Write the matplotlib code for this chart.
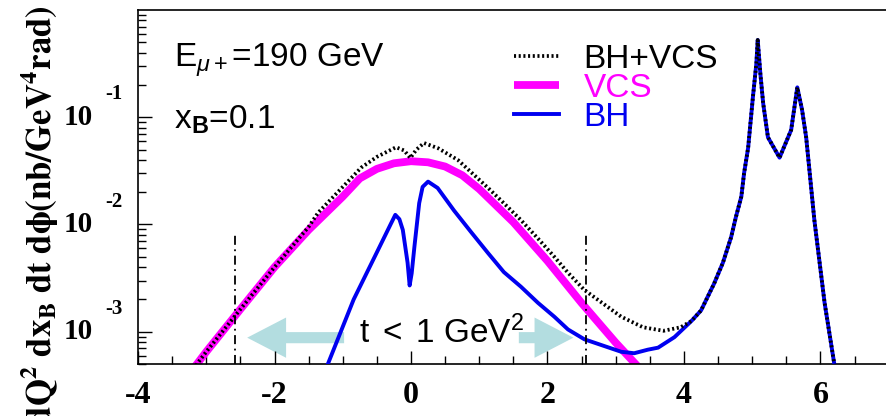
#!/usr/bin/env python3
import matplotlib
matplotlib.use('Agg')
import numpy as np
from matplotlib import pyplot as plt
from matplotlib.ticker import MultipleLocator, LogLocator, NullFormatter

plt.rcParams['axes.unicode_minus'] = False
plt.rcParams['mathtext.fontset'] = 'custom'
plt.rcParams['mathtext.rm'] = 'Liberation Sans'
plt.rcParams['mathtext.it'] = 'Liberation Sans:italic'
plt.rcParams['mathtext.sf'] = 'Liberation Sans:bold'
plt.rcParams['mathtext.bf'] = 'Liberation Sans:bold'

#%% curves
vcs_x = [-3.40, -3.00, -2.50, -2.00, -1.50, -1.00, -0.75, -0.50, -0.25, 0.00,
         0.25, 0.50, 0.75, 1.00, 1.50, 2.00, 2.50, 3.00, 3.40]
vcs_y = [3.0e-4, 6.5e-4, 1.62e-3, 4.0e-3, 8.9e-3, 1.82e-2, 2.69e-2, 3.3e-2, 3.72e-2, 3.89e-2,
         3.80e-2, 3.47e-2, 2.88e-2, 2.14e-2, 1.05e-2, 4.57e-3, 1.85e-3, 7.9e-4, 4.2e-4]

bh_x = [-1.30, -0.84, -0.50, -0.30, -0.23, -0.17, -0.12, -0.05, -0.02, 0.01, 0.05,
        0.12, 0.17, 0.25, 0.39, 0.63, 0.88, 1.13, 1.36, 1.61, 1.86, 2.10, 2.30, 2.54,
        3.08, 3.27, 3.47, 3.62, 3.86, 4.11, 4.25, 4.44, 4.57, 4.69, 4.76, 4.84, 4.88,
        4.94, 5.01, 5.06, 5.08, 5.12, 5.16, 5.23, 5.40, 5.57, 5.66, 5.73, 5.79, 5.91,
        6.06, 6.20, 6.25]
bh_y = [3.7e-4, 2.0e-3, 5.5e-3, 1.0e-2, 1.23e-2, 1.12e-2, 8.9e-3, 4.4e-3, 2.7e-3, 3.5e-3, 6.2e-3,
        1.58e-2, 2.24e-2, 2.51e-2, 2.19e-2, 1.35e-2, 8.5e-3, 5.4e-3, 3.6e-3, 2.63e-3, 1.86e-3, 1.38e-3, 1.05e-3, 8.5e-4,
        6.5e-4, 6.3e-4, 6.8e-4, 7.1e-4, 8.9e-4, 1.26e-3, 1.58e-3, 2.8e-3, 4.4e-3, 7.6e-3, 1.17e-2, 1.82e-2, 3.0e-2,
        5.2e-2, 0.155, 0.316, 0.525, 0.25, 0.135, 6.5e-2, 4.2e-2, 7.6e-2, 0.19, 0.117, 6.5e-2, 1.1e-2,
        1.86e-3, 5.1e-4, 3.5e-4]

sum_x = [-3.40, -3.00, -2.50, -2.00, -1.50, -1.36, -1.00, -0.73, -0.50, -0.22, -0.10,
         -0.01, 0.08, 0.19, 0.40, 0.69, 1.13, 1.36, 1.61, 1.86, 2.10, 2.30, 2.54, 3.08,
         3.40, 3.70, 3.95, 4.11, 4.25, 4.44, 4.57, 4.69, 4.76, 4.84, 4.88, 4.94, 5.01,
         5.06, 5.08, 5.12, 5.16, 5.23, 5.40, 5.57, 5.66, 5.73, 5.79, 5.91, 6.06, 6.20, 6.25]
sum_y = [3.0e-4, 6.5e-4, 1.62e-3, 4.0e-3, 9.5e-3, 1.29e-2, 2.24e-2, 3.39e-2, 4.27e-2, 5.25e-2, 4.9e-2,
         4.17e-2, 5.0e-2, 5.75e-2, 5.13e-2, 3.98e-2, 2.19e-2, 1.58e-2, 1.10e-2, 7.4e-3, 5.0e-3, 3.55e-3, 2.45e-3, 1.38e-3,
         1.10e-3, 1.02e-3, 1.10e-3, 1.26e-3, 1.58e-3, 2.8e-3, 4.4e-3, 7.6e-3, 1.17e-2, 1.82e-2, 3.0e-2, 5.2e-2, 0.155,
         0.316, 0.525, 0.25, 0.135, 6.5e-2, 4.2e-2, 7.6e-2, 0.19, 0.117, 6.5e-2, 1.1e-2, 1.86e-3, 5.1e-4, 3.5e-4]

cuts_x = [-2.58, 2.57]
cut_top = 8.0e-3
arrow_y = 8.8e-4
arrow_left = (-0.98, -2.40)   # tail, tip
arrow_right = (1.58, 2.38)

ytick_vals = [1e-1, 1e-2, 1e-3]
ytick_exps = ['-1', '-2', '-3']
xtick_vals = [-4, -2, 0, 2, 4, 6]

#%%
fig = plt.figure(figsize=(8.87, 4.16), dpi=100)
ax = fig.add_axes([138/887, 52/416, (905-138)/887, 354/416])
ax.set_yscale('log')
ax.set_xlim(-4, -4 + (905-138)/68.25)
ax.set_ylim(5.0e-4, 1.0)

ax.plot(vcs_x, vcs_y, color='#ff00ff', lw=5.6, solid_capstyle='butt', zorder=2, label='VCS')
ax.plot(bh_x, bh_y, color='#0000f0', lw=2.8, zorder=3, label='BH')
ax.plot(sum_x, sum_y, color='black', lw=2.7, ls=(0, (0.55, 0.7)), zorder=4, label='BH+VCS')
ax.vlines(cuts_x, 5.0e-4, cut_top, colors='black', lw=1.3, linestyles=[(0, (5, 2.5, 1, 2.5))], zorder=5)

acol = '#b3dde0'
for tail, tip in (arrow_left, arrow_right):
    ax.annotate('', xy=(tip, arrow_y), xytext=(tail, arrow_y),
                arrowprops=dict(arrowstyle='simple,head_length=28,head_width=29,tail_width=8',
                                mutation_scale=1, color=acol, shrinkA=0, shrinkB=0, lw=0),
                zorder=1)
ax.text(0.452, 10**-3.11, r't $\,$< $\,$1 GeV$^2$', ha='center', va='baseline', fontsize=24,
        fontfamily='Liberation Sans', zorder=6)

ax.text(0.047, 0.836, r'E$_{\mu+}$=190 GeV', transform=ax.transAxes, fontsize=24,
        fontfamily='Liberation Sans', va='baseline')
ax.text(0.047, 0.664, r'x$_{\mathsf{B}}$=0.1', transform=ax.transAxes, fontsize=24,
        fontfamily='Liberation Sans', va='baseline')

h, l = ax.get_legend_handles_labels()
order = [2, 0, 1]
leg = ax.legend([h[i] for i in order], [l[i] for i in order], loc='upper left',
                bbox_to_anchor=(0.4907, 0.904), frameon=False, borderpad=0, borderaxespad=0,
                handlelength=1.35, handletextpad=0.72, labelspacing=-0.06,
                prop={'family': 'Liberation Sans', 'size': 24}, labelcolor='linecolor')

# axes / ticks
for s in ('left', 'bottom', 'top'):
    ax.spines[s].set_linewidth(1.2)
ax.spines['right'].set_visible(False)
ax.xaxis.set_minor_locator(MultipleLocator(0.5))
ax.set_xticks(xtick_vals)
ax.set_xticklabels([str(v) for v in xtick_vals], fontfamily='Liberation Serif',
                   fontweight='bold', fontsize=23)
ax.tick_params(axis='x', which='major', direction='in', length=9.5, width=1, pad=12)
ax.tick_params(axis='x', which='minor', direction='in', length=5.5, width=1)
ax.set_yticks(ytick_vals)
ax.yaxis.set_minor_locator(LogLocator(base=10, subs=np.arange(2, 10)))
ax.yaxis.set_minor_formatter(NullFormatter())
ax.set_yticklabels(['' for v in ytick_vals])
ax.tick_params(axis='y', which='major', direction='in', length=10, width=1)
ax.tick_params(axis='y', which='minor', direction='in', length=5.5, width=1)

for v, e in zip(ytick_vals, ytick_exps):
    ax.annotate('10', xy=(0, v), xycoords=('axes fraction', 'data'), xytext=(-32.4, 0),
                textcoords='offset points', ha='right', va='center', fontsize=21,
                fontfamily='Liberation Serif', fontweight='bold', annotation_clip=False)
    ax.annotate(e, xy=(0, v), xycoords=('axes fraction', 'data'), xytext=(-23.8, 16.5),
                textcoords='offset points', ha='left', va='center', fontsize=15,
                fontfamily='Liberation Serif', fontweight='bold', annotation_clip=False)

fig.text(40/887, 1 - 5/416, r'$\mathbf{d\sigma/dQ^2\ dx_B\ dt\ d\phi(nb/GeV^4rad)}$',
         rotation=90, ha='center', va='top', fontsize=25, math_fontfamily='stix')

fig.savefig('out.png', dpi=100)
